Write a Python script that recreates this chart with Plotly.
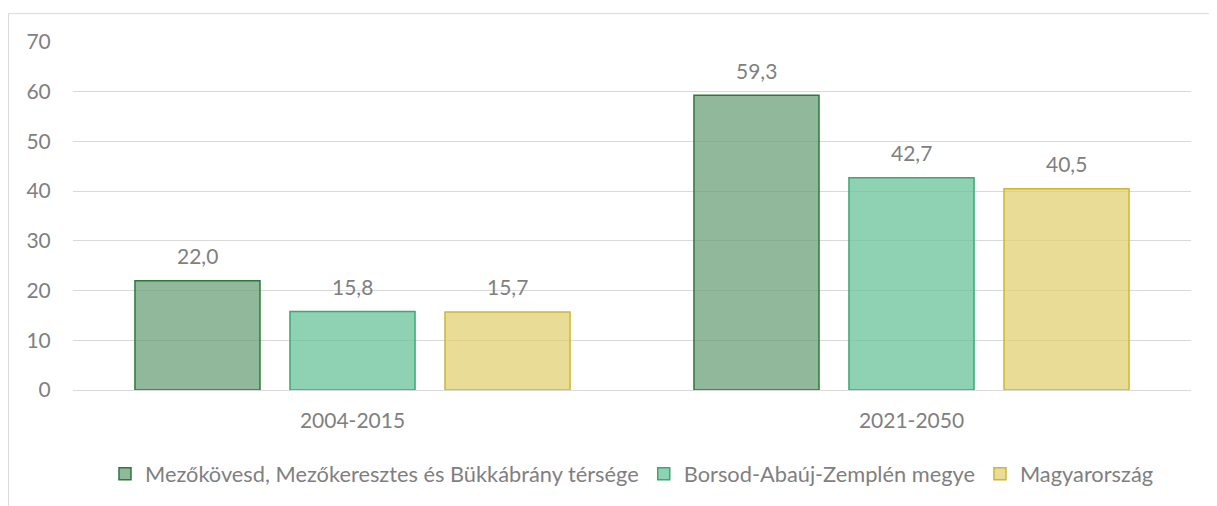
import plotly.graph_objects as go

categories = ["2004-2015", "2021-2050"]
series_names = ["Mezőkövesd, Mezőkeresztes és Bükkábrány térsége",
                "Borsod-Abaúj-Zemplén megye", "Magyarország"]
series_values = [
    [22.0, 59.3],
    [15.8, 42.7],
    [15.7, 40.5],
]
y_ticks = [0, 10, 20, 30, 40, 50, 60, 70]

fills = ["rgba(104,157,118,0.72)", "rgba(100,192,150,0.72)", "rgba(224,206,110,0.72)"]
lines = ["#2a7a3b", "#3aa872", "#cdb634"]
font = "Lato, 'Open Sans', sans-serif"
gray = "#7f7f7f"
fs = 21

# page has an 8px body margin; figure is sized/placed to compensate
W, H = 1209, 498
L, R, T, B = 65, 26, 34, 115
PW = W - L - R
PH = H - T - B

fig = go.Figure()
for name, vals, fc, lc in zip(series_names, series_values, fills, lines):
    fig.add_trace(go.Bar(x=categories, y=vals, name=name,
                         marker=dict(color=fc, line=dict(color=lc, width=1.5))))

# data labels
offsets = [-155, 0, 155]
for vals, off in zip(series_values, offsets):
    for c, v in zip(categories, vals):
        fig.add_annotation(x=c, y=v, text=f"{v:.1f}".replace(".", ","),
                           showarrow=False, xshift=off, yshift=25,
                           font=dict(size=fs, color=gray, family=font))

fig.add_shape(type="rect", xref="paper", yref="paper",
              x0=(0.5 - L) / PW, x1=1.2, y0=-0.6, y1=1 + (T - 5.5) / PH,
              line=dict(color="#d9d9d9", width=1), layer="below")

fig.update_layout(
    width=W, height=H,
    margin=dict(l=L, r=R, t=T, b=B),
    paper_bgcolor="white", plot_bgcolor="white",
    barmode="group", bargap=0.168, bargroupgap=0.1935,
    font=dict(family=font, size=fs, color=gray),
    showlegend=True,
    legend=dict(orientation="h", x=0.5, xanchor="center", y=-83 / PH,
                yanchor="middle", font=dict(size=21.8, color=gray),
                itemwidth=30, itemclick=False, traceorder="normal"),
    xaxis=dict(showgrid=False, showline=True, linecolor="#d9d9d9", linewidth=1,
               ticks="outside", ticklen=12, tickcolor="rgba(0,0,0,0)",
               tickfont=dict(size=fs, color=gray)),
    yaxis=dict(range=[0, 70], tickvals=y_ticks, showgrid=True, gridcolor="#d9d9d9",
               gridwidth=1, zeroline=False, showline=False,
               ticks="outside", ticklen=17, tickcolor="rgba(0,0,0,0)",
               tickfont=dict(size=fs, color=gray)),
)

fig.write_html("out.html")
